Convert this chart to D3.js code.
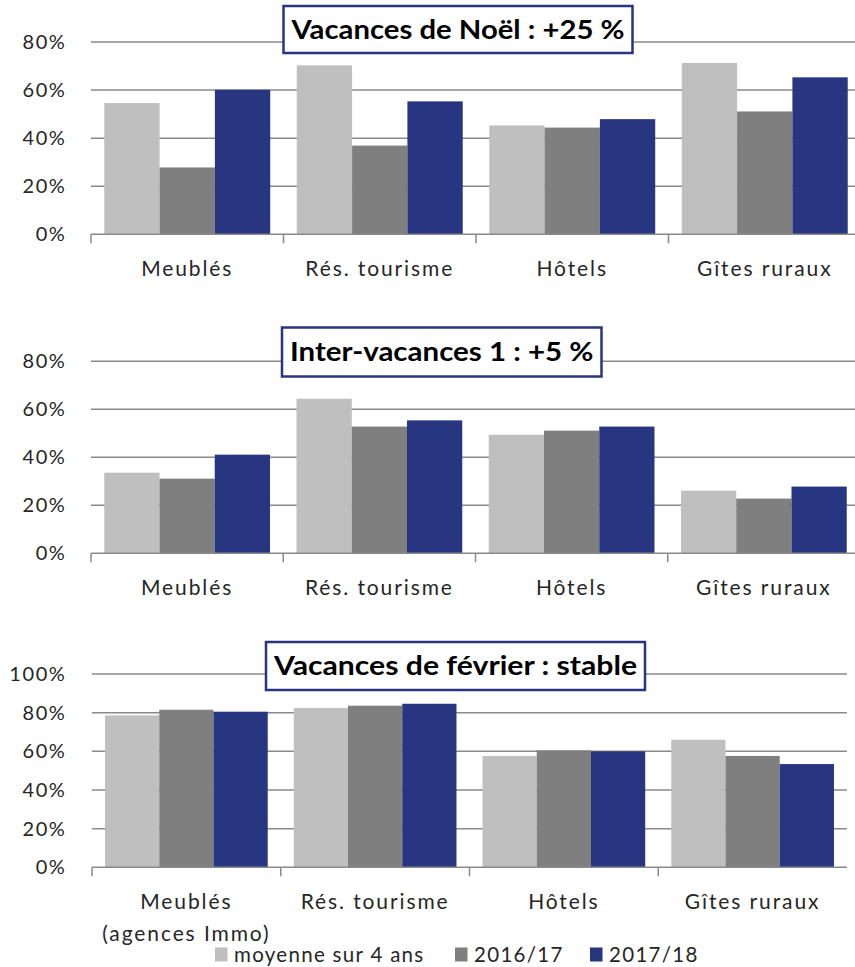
<!DOCTYPE html>
<html>
<head>
<meta charset="utf-8">
<script src="https://cdn.jsdelivr.net/npm/d3@7"></script>
<style>
  html, body { margin: 0; padding: 0; background: #fff; }
  svg { display: block; }
</style>
</head>
<body>
<svg id="chart" width="855" height="967"></svg>
<script>
// ---- Data ----
const categories = ["Meublés", "Rés. tourisme", "Hôtels", "Gîtes ruraux"];
const seriesNames = ["moyenne sur 4 ans", "2016/17", "2017/18"];

const noelTitle = "Vacances de Noël : +25 %";
const noelMoyenne = [54.6, 70.3, 45.3, 71.3];
const noel2016 = [27.8, 36.9, 44.4, 51.1];
const noel2017 = [60.1, 55.3, 47.9, 65.3];
const noelTicks = [0, 20, 40, 60, 80];

const interTitle = "Inter-vacances 1 : +5 %";
const interMoyenne = [33.6, 64.4, 49.4, 26.1];
const inter2016 = [31.1, 52.8, 51.1, 22.8];
const inter2017 = [41.1, 55.4, 52.8, 27.8];
const interTicks = [0, 20, 40, 60, 80];

const fevTitle = "Vacances de février : stable";
const fevMoyenne = [78.6, 82.4, 57.6, 66.0];
const fev2016 = [81.5, 83.6, 60.5, 57.6];
const fev2017 = [80.5, 84.6, 60.0, 53.4];
const fevTicks = [0, 20, 40, 60, 80, 100];
const fevCategoryNotes = ["(agences Immo)", "", "", ""];

// ---- Styles / layout ----
const colors = ["#BFBFBF", "#7F7F7F", "#283580"];
const FONT = "Lato, 'Open Sans', sans-serif";
const TEXT = "#262626";

const panels = [
  { title: noelTitle, values: [noelMoyenne, noel2016, noel2017], ticks: noelTicks, notes: null,
    yRange: [234.3, 42], x: [91, 861], box: [283.5, 6, 349, 47] },
  { title: interTitle, values: [interMoyenne, inter2016, inter2017], ticks: interTicks, notes: null,
    yRange: [553.3, 361.3], x: [91, 860], box: [282, 327.5, 319.5, 49] },
  { title: fevTitle, values: [fevMoyenne, fev2016, fev2017], ticks: fevTicks, notes: fevCategoryNotes,
    yRange: [867.3, 674], x: [92, 847], box: [266, 642, 379, 48] }
];

const svg = d3.select("#chart");

panels.forEach(p => {
  const g = svg.append("g");
  const yMax = p.ticks[p.ticks.length - 1];
  const y = d3.scaleLinear().domain([0, yMax]).range(p.yRange);
  const x0 = d3.scaleBand().domain(categories).range(p.x).paddingInner(0.138).paddingOuter(0.069);
  const x1 = d3.scaleBand().domain(d3.range(seriesNames.length)).range([0, x0.bandwidth()]);

  // gridlines
  g.append("g").selectAll("line").data(p.ticks.filter(t => t > 0)).join("line")
    .attr("x1", p.x[0]).attr("x2", p.x[1])
    .attr("y1", d => y(d)).attr("y2", d => y(d))
    .attr("stroke", "#8a8a8a").attr("stroke-width", 1.5);

  // y tick labels
  g.append("g").selectAll("text").data(p.ticks).join("text")
    .attr("x", 66.5).attr("y", d => y(d)).attr("dy", "0.35em")
    .attr("text-anchor", "end")
    .attr("font-family", FONT).attr("font-size", 20).attr("letter-spacing", 1.6)
    .attr("fill", TEXT)
    .text(d => d + "%");

  // bars
  const rows = categories.map((c, i) => ({ c, vals: p.values.map(s => s[i]) }));
  g.append("g").selectAll("g").data(rows).join("g")
    .attr("transform", d => `translate(${x0(d.c)},0)`)
    .selectAll("rect").data(d => d.vals.map((v, k) => ({ v, k }))).join("rect")
    .attr("x", d => x1(d.k)).attr("width", x1.bandwidth())
    .attr("y", d => y(d.v)).attr("height", d => y(0) - y(d.v))
    .attr("fill", d => colors[d.k]);

  // x axis baseline and category boundary ticks
  g.append("line").attr("x1", p.x[0]).attr("x2", p.x[1])
    .attr("y1", y(0)).attr("y2", y(0))
    .attr("stroke", "#8a8a8a").attr("stroke-width", 1.5);
  const bounds = categories.map(c => x0(c) - x0.step() * x0.paddingOuter());
  g.append("g").selectAll("line").data(bounds).join("line")
    .attr("x1", d => d).attr("x2", d => d)
    .attr("y1", y(0)).attr("y2", y(0) + 9)
    .attr("stroke", "#8a8a8a").attr("stroke-width", 1.5);

  // category labels
  g.append("g").selectAll("text").data(categories).join("text")
    .attr("x", d => x0(d) + x0.bandwidth() / 2).attr("y", y(0) + 42)
    .attr("text-anchor", "middle")
    .attr("font-family", FONT).attr("font-size", 21).attr("letter-spacing", 1.9)
    .attr("fill", TEXT)
    .text(d => d);
  if (p.notes) {
    g.append("g").selectAll("text").data(categories).join("text")
      .attr("x", d => x0(d) + x0.bandwidth() / 2).attr("y", y(0) + 74)
      .attr("text-anchor", "middle")
      .attr("font-family", FONT).attr("font-size", 21).attr("letter-spacing", 1.9)
      .attr("fill", TEXT)
      .text((d, i) => p.notes[i]);
  }

  // title box
  const [bx, by, bw, bh] = p.box;
  g.append("rect").attr("x", bx).attr("y", by).attr("width", bw).attr("height", bh)
    .attr("fill", "#fff").attr("stroke", "#283580").attr("stroke-width", 2.5);
  g.append("text").attr("x", bx + bw / 2).attr("y", by + bh / 2).attr("dy", "0.36em")
    .attr("text-anchor", "middle")
    .attr("font-family", FONT).attr("font-weight", "bold").attr("font-size", 26)
    .attr("fill", "#000")
    .attr("textLength", bw - 16).attr("lengthAdjust", "spacingAndGlyphs")
    .text(p.title);
});

// legend
const legendX = [215, 455, 590];
const lg = svg.append("g").selectAll("g").data(seriesNames).join("g")
  .attr("transform", (d, i) => `translate(${legendX[i]},947.5)`);
lg.append("rect").attr("width", 12.5).attr("height", 14).attr("fill", (d, i) => colors[i]);
lg.append("text").attr("x", 19).attr("y", 14.5)
  .attr("font-family", FONT).attr("font-size", 20.5).attr("letter-spacing", 1.3)
  .attr("fill", TEXT)
  .text(d => d);
</script>
</body>
</html>
